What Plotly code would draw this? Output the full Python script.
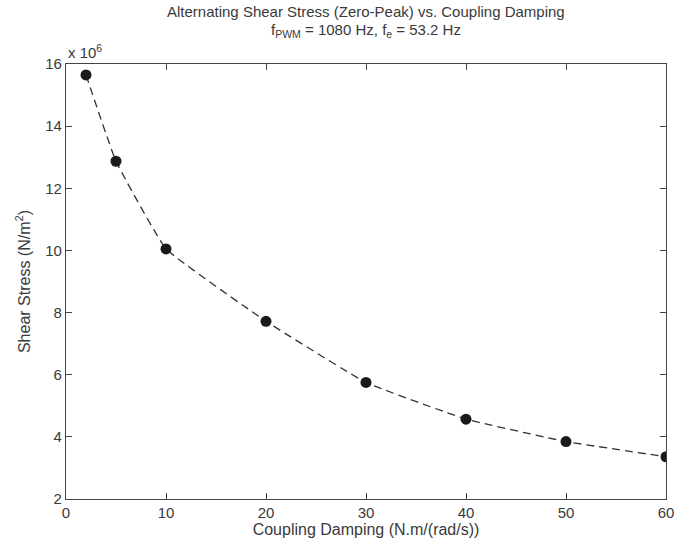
import plotly.graph_objects as go

damping = [2, 5, 10, 20, 30, 40, 50, 60]
stress_e6 = [15.65, 12.87, 10.05, 7.72, 5.75, 4.57, 3.85, 3.36]

xticks = [0, 10, 20, 30, 40, 50, 60]
yticks = [2, 4, 6, 8, 10, 12, 14, 16]

title1 = "Alternating Shear Stress (Zero-Peak) vs. Coupling Damping"
title2 = "f<sub>PWM</sub> = 1080 Hz, f<sub>e</sub> = 53.2 Hz"

FONT = "Liberation Sans, Arial, sans-serif"
TXT = "#3a3a3a"

fig = go.Figure()
fig.add_trace(go.Scatter(
    x=damping, y=stress_e6, mode="lines+markers",
    line=dict(color="#333333", width=1.3, dash="8px,5px", shape="spline", smoothing=0.3),
    marker=dict(color="#1a1a1a", size=11),
    showlegend=False,
))

axis_common = dict(
    showgrid=False, zeroline=False, ticks="inside", ticklen=6,
    tickcolor="#444444", showline=True, linecolor="#444444", linewidth=1.3,
    mirror="ticks", automargin=False,
    tickfont=dict(family=FONT, size=15, color=TXT),
)

fig.update_layout(
    width=677, height=550,
    margin=dict(l=66, r=11, t=64, b=51),
    paper_bgcolor="white", plot_bgcolor="white",
    font=dict(family=FONT, color=TXT),
    xaxis=dict(range=[0, 60], tickvals=xticks, ticktext=[str(v) for v in xticks],
               title=dict(text="Coupling Damping (N.m/(rad/s))",
                          font=dict(family=FONT, size=16, color=TXT), standoff=2),
               **axis_common),
    yaxis=dict(range=[2, 16], tickvals=yticks, ticktext=[str(v) for v in yticks],
               title=dict(text="Shear Stress (N/m<sup>2</sup>)",
                          font=dict(family=FONT, size=16, color=TXT), standoff=10),
               **axis_common),
    annotations=[
        dict(text=title1, xref="paper", yref="paper", x=0.5, y=1.0, yshift=53,
             xanchor="center", yanchor="middle", showarrow=False,
             font=dict(family=FONT, size=15, color=TXT)),
        dict(text=title2, xref="paper", yref="paper", x=0.5, y=1.0, yshift=34,
             xanchor="center", yanchor="middle", showarrow=False,
             font=dict(family=FONT, size=15, color=TXT)),
        dict(text="x 10<sup>6</sup>", xref="paper", yref="paper", x=0.0, y=1.0,
             xanchor="left", yanchor="bottom", showarrow=False, yshift=1,
             font=dict(family=FONT, size=15, color=TXT)),
    ],
)

fig.write_html("out.html")
